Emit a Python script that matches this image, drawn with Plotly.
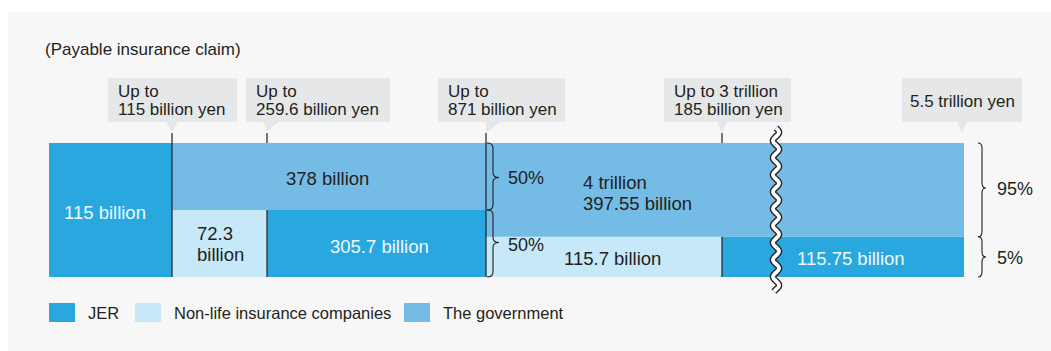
import numpy as np
import plotly.graph_objects as go

# ---------------- data ----------------
TIER_LIMITS = [115, 259.6, 871, 3185, 5500]          # upper bound of each tier (billion yen)
CALLOUT_LABELS = ["Up to<br>115 billion yen", "Up to<br>259.6 billion yen",
                  "Up to<br>871 billion yen", "Up to 3 trillion<br>185 billion yen",
                  "5.5 trillion yen"]
SERIES = ["JER", "Non-life insurance companies", "The government"]

JER_SEGMENTS = [0, 2, 4]
JER_VALUES = [115, 305.7, 115.75]
JER_LABELS = ["115 billion", "305.7 billion", "115.75 billion"]

NONLIFE_SEGMENTS = [1, 3]
NONLIFE_VALUES = [72.3, 115.7]
NONLIFE_LABELS = ["72.3<br>billion", "115.7 billion"]

GOV_SPANS = [(1, 2), (3, 4)]
GOV_VALUES = [378, 4397.55]
GOV_LABELS = ["378 billion", "4 trillion<br>397.55 billion"]

SHARE_PCT = [(50, 50), (5, 95)]    # (private lower band, government upper band) per tier
TITLE = "(Payable insurance claim)"

# ---------------- layout / style ----------------
W, H = 1051, 351
SEG_DISPLAY = [123, 95, 219, 236, 242]     # schematic display widths (axis units)
PRIVATE_DRAW = [1.0, 0.5, 0.5, 0.3, 0.3]   # drawn height of lower (private) band per segment
EDGES = np.concatenate([[0], np.cumsum(SEG_DISPLAY)])

C_JER = "#29a8e0"
C_NON = "#c7e8f8"
C_GOV = "#74bbe6"
C_DARK = "#231f20"
C_LIGHT = "#eef8fd"
C_BOX = "#e6e7e8"
C_PANEL = "#f7f7f7"
FONT = "Liberation Sans, Arial, sans-serif"

X0_PX, BAR_TOP_PX, BAR_BOT_PX = 49, 143, 277
UNIT_Y = BAR_BOT_PX - BAR_TOP_PX


def px(x):  # pixel -> paper x
    return x / W


def py(y):  # pixel -> paper y
    return 1 - y / H


def ax_x(pxv):  # pixel -> axis x
    return pxv - X0_PX


def ax_y(pyv):  # pixel -> axis y
    return (BAR_BOT_PX - pyv) / UNIT_Y


def seg_px(i):
    return X0_PX + EDGES[i]


fig = go.Figure()

# JER bars
fig.add_trace(go.Bar(
    x=[(EDGES[s] + EDGES[s + 1]) / 2 for s in JER_SEGMENTS],
    width=[EDGES[s + 1] - EDGES[s] for s in JER_SEGMENTS],
    y=[PRIVATE_DRAW[s] for s in JER_SEGMENTS],
    base=[0] * len(JER_SEGMENTS),
    marker=dict(color=C_JER, line=dict(width=0)),
    name=SERIES[0], customdata=JER_VALUES, showlegend=False,
    hovertemplate="JER: %{customdata} billion yen<extra></extra>"))

# Non-life bars
fig.add_trace(go.Bar(
    x=[(EDGES[s] + EDGES[s + 1]) / 2 for s in NONLIFE_SEGMENTS],
    width=[EDGES[s + 1] - EDGES[s] for s in NONLIFE_SEGMENTS],
    y=[PRIVATE_DRAW[s] for s in NONLIFE_SEGMENTS],
    base=[0] * len(NONLIFE_SEGMENTS),
    marker=dict(color=C_NON, line=dict(width=0)),
    name=SERIES[1], customdata=NONLIFE_VALUES, showlegend=False,
    hovertemplate="Non-life: %{customdata} billion yen<extra></extra>"))

# Government bars
fig.add_trace(go.Bar(
    x=[(EDGES[a] + EDGES[b + 1]) / 2 for a, b in GOV_SPANS],
    width=[EDGES[b + 1] - EDGES[a] for a, b in GOV_SPANS],
    y=[1 - PRIVATE_DRAW[a] for a, b in GOV_SPANS],
    base=[PRIVATE_DRAW[a] for a, b in GOV_SPANS],
    marker=dict(color=C_GOV, line=dict(width=0)),
    name=SERIES[2], customdata=GOV_VALUES, showlegend=False,
    hovertemplate="Government: %{customdata} billion yen<extra></extra>"))

shapes = []
annotations = []

# background panel
shapes.append(dict(type="rect", xref="paper", yref="paper", x0=px(8), x1=1.0,
                   y0=0, y1=py(12), fillcolor=C_PANEL, line=dict(width=0), layer="below"))


def add_lines(text, x, y_center, size, color, xanchor="center", pitch=None, align="left", xref="x", yref="y"):
    lines = text.split("<br>")
    n = len(lines)
    pitch = pitch if pitch is not None else size * 1.15
    for k, line in enumerate(lines):
        yc = y_center + (k - (n - 1) / 2) * pitch  # in pixels
        annotations.append(dict(
            text=line, x=x, y=ax_y(yc) if yref == "y" else py(yc), xref=xref, yref=yref,
            xanchor=xanchor, yanchor="middle", showarrow=False, align=align,
            font=dict(family=FONT, size=size, color=color)))


# title
add_lines(TITLE, px(43), 50, 17, C_DARK, xanchor="left", xref="paper", yref="paper")

# bar labels
lab_size = 18.5
# JER
add_lines(JER_LABELS[0], (EDGES[0] + EDGES[1]) / 2 - 6, 212, lab_size, C_LIGHT)
add_lines(JER_LABELS[1], (EDGES[2] + EDGES[3]) / 2 + 3, 246, lab_size, C_LIGHT)
add_lines(JER_LABELS[2], (EDGES[4] + EDGES[5]) / 2 + 8, 258, lab_size, C_LIGHT)
# Non-life
for k, line in enumerate(NONLIFE_LABELS[0].split("<br>")):
    annotations.append(dict(text=line, x=EDGES[1] + 23, y=ax_y(233 + 21 * k), xref="x", yref="y",
                            xanchor="left", yanchor="middle", showarrow=False,
                            font=dict(family=FONT, size=lab_size, color=C_DARK)))
add_lines(NONLIFE_LABELS[1], (EDGES[3] + EDGES[4]) / 2 + 8, 258, lab_size, C_DARK)
# Government
add_lines(GOV_LABELS[0], (EDGES[1] + EDGES[3]) / 2 - 2, 178, lab_size, C_DARK)
for k, line in enumerate(GOV_LABELS[1].split("<br>")):
    annotations.append(dict(text=line, x=EDGES[3] + 95, y=ax_y(182 + 21 * k), xref="x", yref="y",
                            xanchor="left", yanchor="middle", showarrow=False,
                            font=dict(family=FONT, size=lab_size, color=C_DARK)))


# divider lines
def vline(xpx, y0, y1):
    shapes.append(dict(type="line", xref="paper", yref="paper", x0=px(xpx), x1=px(xpx),
                       y0=py(y0), y1=py(y1), line=dict(color=C_DARK, width=1.2)))


vline(seg_px(1), 133, BAR_BOT_PX)
vline(seg_px(2), 133, BAR_TOP_PX)
vline(seg_px(2), BAR_BOT_PX - PRIVATE_DRAW[1] * UNIT_Y, BAR_BOT_PX)
vline(seg_px(3), 133, BAR_BOT_PX)
vline(seg_px(4), 133, BAR_TOP_PX)
vline(seg_px(4), BAR_BOT_PX - PRIVATE_DRAW[3] * UNIT_Y, BAR_BOT_PX)

# callout boxes
BOXES = [(108, 237), (246, 390), (438, 565), (664, 791), (902, 1022)]
POINTERS = [[(166, 122), (178, 122), (172, 132)],
            [(263, 122), (279, 122), (267, 131)],
            [(486, 122), (500, 122), (486, 133)],
            [(717, 122), (727, 122), (722, 133)],
            [(957, 122), (967, 122), (962, 133)]]
for i, ((bx0, bx1), tri) in enumerate(zip(BOXES, POINTERS)):
    shapes.append(dict(type="rect", xref="paper", yref="paper", x0=px(bx0), x1=px(bx1),
                       y0=py(122), y1=py(78), fillcolor=C_BOX, line=dict(width=0)))
    path = "M " + " L ".join(f"{px(a):.5f},{py(b):.5f}" for a, b in tri) + " Z"
    shapes.append(dict(type="path", xref="paper", yref="paper", path=path,
                       fillcolor=C_BOX, line=dict(width=0)))
    txt = CALLOUT_LABELS[i]
    if "<br>" in txt:
        add_lines(txt, px(bx0 + 8), 100.5, 17, C_DARK, xanchor="left", pitch=18,
                  xref="paper", yref="paper")
    else:
        add_lines(txt, px((bx0 + bx1) / 2), 101, 17, C_DARK, xref="paper", yref="paper")


# braces
def brace(x0, ya, yb, ym, x1, r=5):
    xm = (x0 + x1) / 2
    pts = [("M", x0, ya), ("Q", xm, ya), ("", xm, ya + r), ("L", xm, ym - r),
           ("Q", xm, ym), ("", x1, ym), ("Q", xm, ym), ("", xm, ym + r),
           ("L", xm, yb - r), ("Q", xm, yb), ("", x0, yb)]
    path = " ".join(f"{c} {px(a):.5f},{py(b):.5f}" if c else f"{px(a):.5f},{py(b):.5f}" for c, a, b in pts)
    shapes.append(dict(type="path", xref="paper", yref="paper", path=path,
                       line=dict(color=C_DARK, width=1.1)))


split_a = BAR_BOT_PX - PRIVATE_DRAW[1] * UNIT_Y
split_b = BAR_BOT_PX - PRIVATE_DRAW[3] * UNIT_Y
bl = seg_px(3) + 1
brace(bl, BAR_TOP_PX, split_a, (BAR_TOP_PX + split_a) / 2 + 1, bl + 12)
brace(bl, split_a, BAR_BOT_PX, (split_a + BAR_BOT_PX) / 2 - 1, bl + 12)
add_lines(f"{SHARE_PCT[0][1]}%", px(bl + 19), 178, 18, C_DARK, xanchor="left", xref="paper", yref="paper")
add_lines(f"{SHARE_PCT[0][0]}%", px(bl + 19), 245, 18, C_DARK, xanchor="left", xref="paper", yref="paper")

br = seg_px(5) + 14
brace(br, BAR_TOP_PX, split_b, 188, br + 8)
brace(br, split_b, BAR_BOT_PX, 257, br + 8)
add_lines(f"{SHARE_PCT[1][1]}%", px(br + 17), 189, 18, C_DARK, xanchor="left", xref="paper", yref="paper")
add_lines(f"{SHARE_PCT[1][0]}%", px(br + 17), 258, 18, C_DARK, xanchor="left", xref="paper", yref="paper")

# axis break (wavy)
yy = np.arange(128, 292, 0.5)
xx = 776 + 3.0 * np.sin(2 * np.pi * (yy - 128) / 17)
wpath = "M " + " L ".join(f"{px(a):.5f},{py(b):.5f}" for a, b in zip(xx, yy))
shapes.append(dict(type="path", xref="paper", yref="paper", path=wpath,
                   line=dict(color=C_DARK, width=6.5)))
shapes.append(dict(type="path", xref="paper", yref="paper", path=wpath,
                   line=dict(color="white", width=3.8)))

# legend
LEG = [(49, 86, C_JER), (135, 172, C_NON), (404, 441, C_GOV)]
for (sx, tx, col), name in zip(LEG, SERIES):
    shapes.append(dict(type="rect", xref="paper", yref="paper", x0=px(sx), x1=px(sx + 26),
                       y0=py(322), y1=py(303), fillcolor=col, line=dict(width=0)))
    add_lines(name, px(tx), 313, 16.5, C_DARK, xanchor="left", xref="paper", yref="paper")

fig.update_layout(
    width=W, height=H, margin=dict(l=0, r=0, t=0, b=0),
    paper_bgcolor="white", plot_bgcolor="rgba(0,0,0,0)",
    barmode="overlay", showlegend=False,
    xaxis=dict(range=[ax_x(0), ax_x(W)], visible=False, fixedrange=True),
    yaxis=dict(range=[ax_y(H), ax_y(0)], visible=False, fixedrange=True),
    shapes=shapes, annotations=annotations,
    font=dict(family=FONT, color=C_DARK),
)

fig.write_html("out.html")
